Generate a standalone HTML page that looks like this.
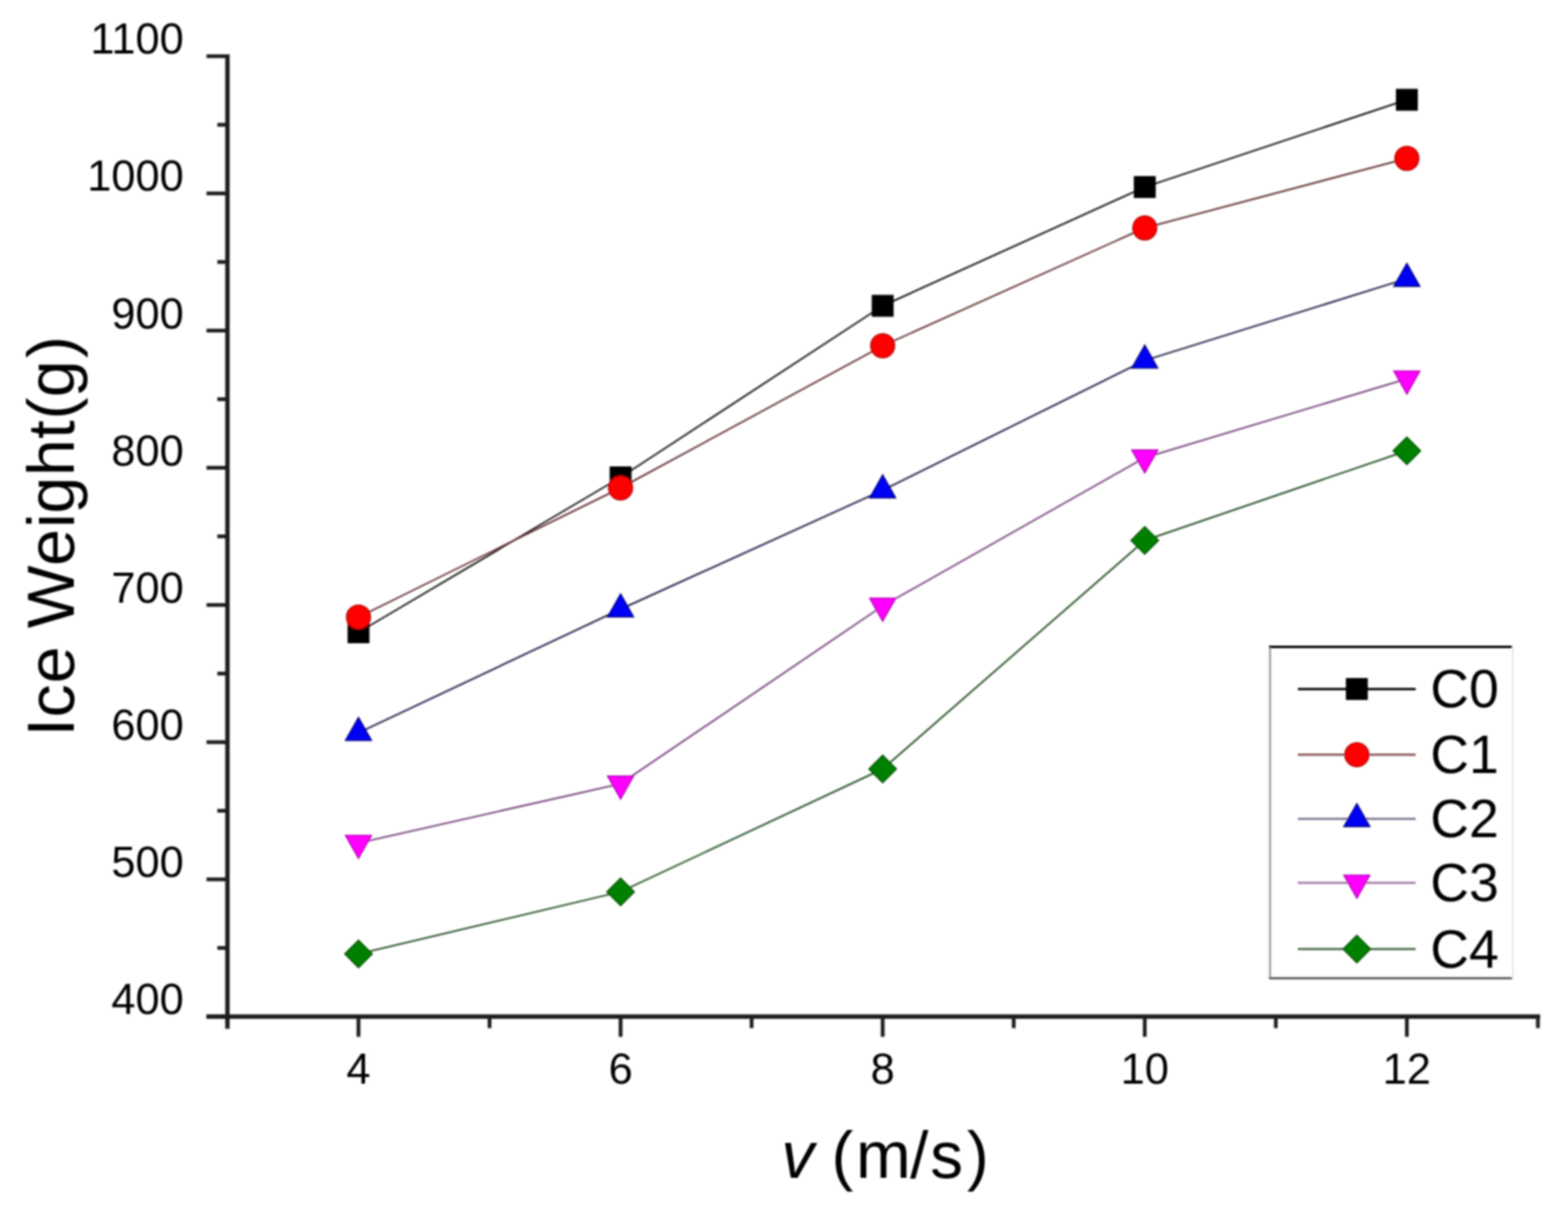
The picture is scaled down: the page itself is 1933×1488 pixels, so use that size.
<!DOCTYPE html>
<html><head><meta charset="utf-8"><title>Ice Weight vs v</title>
<style>
html,body{margin:0;padding:0;background:#fff;}
body{width:1933px;height:1488px;overflow:hidden;}
svg{display:block;}
.t{font-family:"Liberation Sans",Arial,Helvetica,sans-serif;fill:#000;}
</style></head>
<body>
<svg width="1933" height="1488" viewBox="0 0 1933 1488">
<defs><filter id="soft" x="0" y="0" width="1933" height="1488" filterUnits="userSpaceOnUse"><feGaussianBlur stdDeviation="0.9"/></filter></defs>
<rect width="1933" height="1488" fill="#fff"/>
<g filter="url(#soft)">
<line x1="280.4" y1="66.99" x2="280.4" y2="1268.20" stroke="#1e1e1e" stroke-width="5.4"/>
<line x1="254.60" y1="1253.2" x2="1898.60" y2="1253.2" stroke="#1e1e1e" stroke-width="5.4"/>
<line x1="254.60" y1="1253.20" x2="280.40" y2="1253.20" stroke="#1e1e1e" stroke-width="4.6"/>
<line x1="267.90" y1="1168.63" x2="280.40" y2="1168.63" stroke="#1e1e1e" stroke-width="4.6"/>
<line x1="254.60" y1="1084.07" x2="280.40" y2="1084.07" stroke="#1e1e1e" stroke-width="4.6"/>
<line x1="267.90" y1="999.51" x2="280.40" y2="999.51" stroke="#1e1e1e" stroke-width="4.6"/>
<line x1="254.60" y1="914.94" x2="280.40" y2="914.94" stroke="#1e1e1e" stroke-width="4.6"/>
<line x1="267.90" y1="830.38" x2="280.40" y2="830.38" stroke="#1e1e1e" stroke-width="4.6"/>
<line x1="254.60" y1="745.81" x2="280.40" y2="745.81" stroke="#1e1e1e" stroke-width="4.6"/>
<line x1="267.90" y1="661.25" x2="280.40" y2="661.25" stroke="#1e1e1e" stroke-width="4.6"/>
<line x1="254.60" y1="576.68" x2="280.40" y2="576.68" stroke="#1e1e1e" stroke-width="4.6"/>
<line x1="267.90" y1="492.12" x2="280.40" y2="492.12" stroke="#1e1e1e" stroke-width="4.6"/>
<line x1="254.60" y1="407.55" x2="280.40" y2="407.55" stroke="#1e1e1e" stroke-width="4.6"/>
<line x1="267.90" y1="322.99" x2="280.40" y2="322.99" stroke="#1e1e1e" stroke-width="4.6"/>
<line x1="254.60" y1="238.42" x2="280.40" y2="238.42" stroke="#1e1e1e" stroke-width="4.6"/>
<line x1="267.90" y1="153.86" x2="280.40" y2="153.86" stroke="#1e1e1e" stroke-width="4.6"/>
<line x1="254.60" y1="69.29" x2="280.40" y2="69.29" stroke="#1e1e1e" stroke-width="4.6"/>
<line x1="441.95" y1="1253.20" x2="441.95" y2="1278.20" stroke="#1e1e1e" stroke-width="4.6"/>
<line x1="603.50" y1="1253.20" x2="603.50" y2="1267.50" stroke="#1e1e1e" stroke-width="4.6"/>
<line x1="765.05" y1="1253.20" x2="765.05" y2="1278.20" stroke="#1e1e1e" stroke-width="4.6"/>
<line x1="926.60" y1="1253.20" x2="926.60" y2="1267.50" stroke="#1e1e1e" stroke-width="4.6"/>
<line x1="1088.15" y1="1253.20" x2="1088.15" y2="1278.20" stroke="#1e1e1e" stroke-width="4.6"/>
<line x1="1249.70" y1="1253.20" x2="1249.70" y2="1267.50" stroke="#1e1e1e" stroke-width="4.6"/>
<line x1="1411.25" y1="1253.20" x2="1411.25" y2="1278.20" stroke="#1e1e1e" stroke-width="4.6"/>
<line x1="1572.80" y1="1253.20" x2="1572.80" y2="1267.50" stroke="#1e1e1e" stroke-width="4.6"/>
<line x1="1734.35" y1="1253.20" x2="1734.35" y2="1278.20" stroke="#1e1e1e" stroke-width="4.6"/>
<line x1="1895.90" y1="1253.20" x2="1895.90" y2="1267.50" stroke="#1e1e1e" stroke-width="4.6"/>
<text x="226.6" y="1250.20" font-size="53.5" text-anchor="end" class="t">400</text>
<text x="226.6" y="1081.07" font-size="53.5" text-anchor="end" class="t">500</text>
<text x="226.6" y="911.94" font-size="53.5" text-anchor="end" class="t">600</text>
<text x="226.6" y="742.81" font-size="53.5" text-anchor="end" class="t">700</text>
<text x="226.6" y="573.68" font-size="53.5" text-anchor="end" class="t">800</text>
<text x="226.6" y="404.55" font-size="53.5" text-anchor="end" class="t">900</text>
<text x="226.6" y="235.42" font-size="53.5" text-anchor="end" class="t">1000</text>
<text x="226.6" y="66.29" font-size="53.5" text-anchor="end" class="t">1100</text>
<text x="441.95" y="1335.8" font-size="53.5" text-anchor="middle" class="t">4</text>
<text x="765.05" y="1335.8" font-size="53.5" text-anchor="middle" class="t">6</text>
<text x="1088.15" y="1335.8" font-size="53.5" text-anchor="middle" class="t">8</text>
<text x="1411.25" y="1335.8" font-size="53.5" text-anchor="middle" class="t">10</text>
<text x="1734.35" y="1335.8" font-size="53.5" text-anchor="middle" class="t">12</text>
<text transform="translate(91.0,901) rotate(-90)" x="0" y="0" font-size="82" class="t" dx="-6.9 0.7 0.8 0 -0.2 0.7 1.2 -0.6 0.8 0.3 1.1 0.1 2.7">Ice Weight(g)</text>
<text x="962" y="1451.5" font-size="81" class="t"><tspan font-style="italic" dx="1.3">v</tspan><tspan dx="0 -1.2 3.1 -0.7 2.3 4.6"> (m/s)</tspan></text>
<polyline points="441.95,779.50 765.05,588.50 1088.15,377.00 1411.25,230.60 1734.35,123.00" fill="none" stroke="#0a0a0a" stroke-width="2.0" stroke-linejoin="round"/>
<polyline points="441.95,760.80 765.05,601.50 1088.15,426.30 1411.25,281.00 1734.35,195.20" fill="none" stroke="#603030" stroke-width="2.0" stroke-linejoin="round"/>
<polyline points="441.95,903.30 765.05,751.00 1088.15,604.30 1411.25,444.40 1734.35,343.60" fill="none" stroke="#1c1c40" stroke-width="2.0" stroke-linejoin="round"/>
<polyline points="441.95,1039.30 765.05,966.20 1088.15,747.00 1411.25,564.20 1734.35,467.00" fill="none" stroke="#74447a" stroke-width="2.0" stroke-linejoin="round"/>
<polyline points="441.95,1176.00 765.05,1099.40 1088.15,948.00 1411.25,666.20 1734.35,555.70" fill="none" stroke="#224c22" stroke-width="2.0" stroke-linejoin="round"/>
<rect x="429.15" y="766.70" width="25.60" height="25.60" fill="#000000" stroke="#000000" stroke-width="1.4" stroke-linejoin="miter"/>
<rect x="752.25" y="575.70" width="25.60" height="25.60" fill="#000000" stroke="#000000" stroke-width="1.4" stroke-linejoin="miter"/>
<rect x="1075.35" y="364.20" width="25.60" height="25.60" fill="#000000" stroke="#000000" stroke-width="1.4" stroke-linejoin="miter"/>
<rect x="1398.45" y="217.80" width="25.60" height="25.60" fill="#000000" stroke="#000000" stroke-width="1.4" stroke-linejoin="miter"/>
<rect x="1721.55" y="110.20" width="25.60" height="25.60" fill="#000000" stroke="#000000" stroke-width="1.4" stroke-linejoin="miter"/>
<circle cx="441.95" cy="760.80" r="14.80" fill="#ff0000" stroke="#b00000" stroke-width="1.4" stroke-linejoin="miter"/>
<circle cx="765.05" cy="601.50" r="14.80" fill="#ff0000" stroke="#b00000" stroke-width="1.4" stroke-linejoin="miter"/>
<circle cx="1088.15" cy="426.30" r="14.80" fill="#ff0000" stroke="#b00000" stroke-width="1.4" stroke-linejoin="miter"/>
<circle cx="1411.25" cy="281.00" r="14.80" fill="#ff0000" stroke="#b00000" stroke-width="1.4" stroke-linejoin="miter"/>
<circle cx="1734.35" cy="195.20" r="14.80" fill="#ff0000" stroke="#b00000" stroke-width="1.4" stroke-linejoin="miter"/>
<polygon points="441.95,884.37 458.05,912.77 425.85,912.77" fill="#0000f4" stroke="#000070" stroke-width="1.4" stroke-linejoin="miter"/>
<polygon points="765.05,732.07 781.15,760.47 748.95,760.47" fill="#0000f4" stroke="#000070" stroke-width="1.4" stroke-linejoin="miter"/>
<polygon points="1088.15,585.37 1104.25,613.77 1072.05,613.77" fill="#0000f4" stroke="#000070" stroke-width="1.4" stroke-linejoin="miter"/>
<polygon points="1411.25,425.47 1427.35,453.87 1395.15,453.87" fill="#0000f4" stroke="#000070" stroke-width="1.4" stroke-linejoin="miter"/>
<polygon points="1734.35,324.67 1750.45,353.07 1718.25,353.07" fill="#0000f4" stroke="#000070" stroke-width="1.4" stroke-linejoin="miter"/>
<polygon points="441.95,1058.23 458.05,1029.83 425.85,1029.83" fill="#ff00ff" stroke="#b000b0" stroke-width="1.4" stroke-linejoin="miter"/>
<polygon points="765.05,985.13 781.15,956.73 748.95,956.73" fill="#ff00ff" stroke="#b000b0" stroke-width="1.4" stroke-linejoin="miter"/>
<polygon points="1088.15,765.93 1104.25,737.53 1072.05,737.53" fill="#ff00ff" stroke="#b000b0" stroke-width="1.4" stroke-linejoin="miter"/>
<polygon points="1411.25,583.13 1427.35,554.73 1395.15,554.73" fill="#ff00ff" stroke="#b000b0" stroke-width="1.4" stroke-linejoin="miter"/>
<polygon points="1734.35,485.93 1750.45,457.53 1718.25,457.53" fill="#ff00ff" stroke="#b000b0" stroke-width="1.4" stroke-linejoin="miter"/>
<polygon points="441.95,1158.98 458.97,1176.00 441.95,1193.02 424.93,1176.00" fill="#008000" stroke="#004a00" stroke-width="1.4" stroke-linejoin="miter"/>
<polygon points="765.05,1082.38 782.07,1099.40 765.05,1116.42 748.03,1099.40" fill="#008000" stroke="#004a00" stroke-width="1.4" stroke-linejoin="miter"/>
<polygon points="1088.15,930.98 1105.17,948.00 1088.15,965.02 1071.13,948.00" fill="#008000" stroke="#004a00" stroke-width="1.4" stroke-linejoin="miter"/>
<polygon points="1411.25,649.18 1428.27,666.20 1411.25,683.22 1394.23,666.20" fill="#008000" stroke="#004a00" stroke-width="1.4" stroke-linejoin="miter"/>
<polygon points="1734.35,538.68 1751.37,555.70 1734.35,572.72 1717.33,555.70" fill="#008000" stroke="#004a00" stroke-width="1.4" stroke-linejoin="miter"/>
<line x1="1865.0" y1="797.5" x2="1865.0" y2="1206.0" stroke="#e6e6e6" stroke-width="2"/>
<line x1="1565.7" y1="797.5" x2="1565.7" y2="1206.0" stroke="#9a9a9a" stroke-width="2.4"/>
<line x1="1564.5" y1="797.5" x2="1864.2" y2="797.5" stroke="#000" stroke-width="2.8"/>
<line x1="1564.5" y1="1206.0" x2="1864.2" y2="1206.0" stroke="#4a4a4a" stroke-width="2.5"/>
<line x1="1600.0" y1="849.4" x2="1745.2" y2="849.4" stroke="#101010" stroke-width="3.0"/>
<rect x="1659.90" y="836.60" width="25.60" height="25.60" fill="#000000" stroke="#000000" stroke-width="1.4" stroke-linejoin="miter"/>
<text x="1763.3" y="872.10" font-size="66" class="t">C0</text>
<line x1="1600.0" y1="930.4" x2="1745.2" y2="930.4" stroke="#8a5656" stroke-width="2.6"/>
<circle cx="1672.70" cy="930.40" r="14.80" fill="#ff0000" stroke="#b00000" stroke-width="1.4" stroke-linejoin="miter"/>
<text x="1763.3" y="953.10" font-size="66" class="t">C1</text>
<line x1="1600.0" y1="1009.5" x2="1745.2" y2="1009.5" stroke="#6e6e86" stroke-width="2.6"/>
<polygon points="1672.70,990.57 1688.80,1018.97 1656.60,1018.97" fill="#0000f4" stroke="#000070" stroke-width="1.4" stroke-linejoin="miter"/>
<text x="1763.3" y="1032.20" font-size="66" class="t">C2</text>
<line x1="1600.0" y1="1088.4" x2="1745.2" y2="1088.4" stroke="#a47ea8" stroke-width="2.6"/>
<polygon points="1672.70,1107.33 1688.80,1078.93 1656.60,1078.93" fill="#ff00ff" stroke="#b000b0" stroke-width="1.4" stroke-linejoin="miter"/>
<text x="1763.3" y="1111.10" font-size="66" class="t">C3</text>
<line x1="1600.0" y1="1170.0" x2="1745.2" y2="1170.0" stroke="#3e5e3e" stroke-width="2.6"/>
<polygon points="1672.70,1152.98 1689.72,1170.00 1672.70,1187.02 1655.68,1170.00" fill="#008000" stroke="#004a00" stroke-width="1.4" stroke-linejoin="miter"/>
<text x="1763.3" y="1192.70" font-size="66" class="t">C4</text>
</g>
</svg>
</body></html>
